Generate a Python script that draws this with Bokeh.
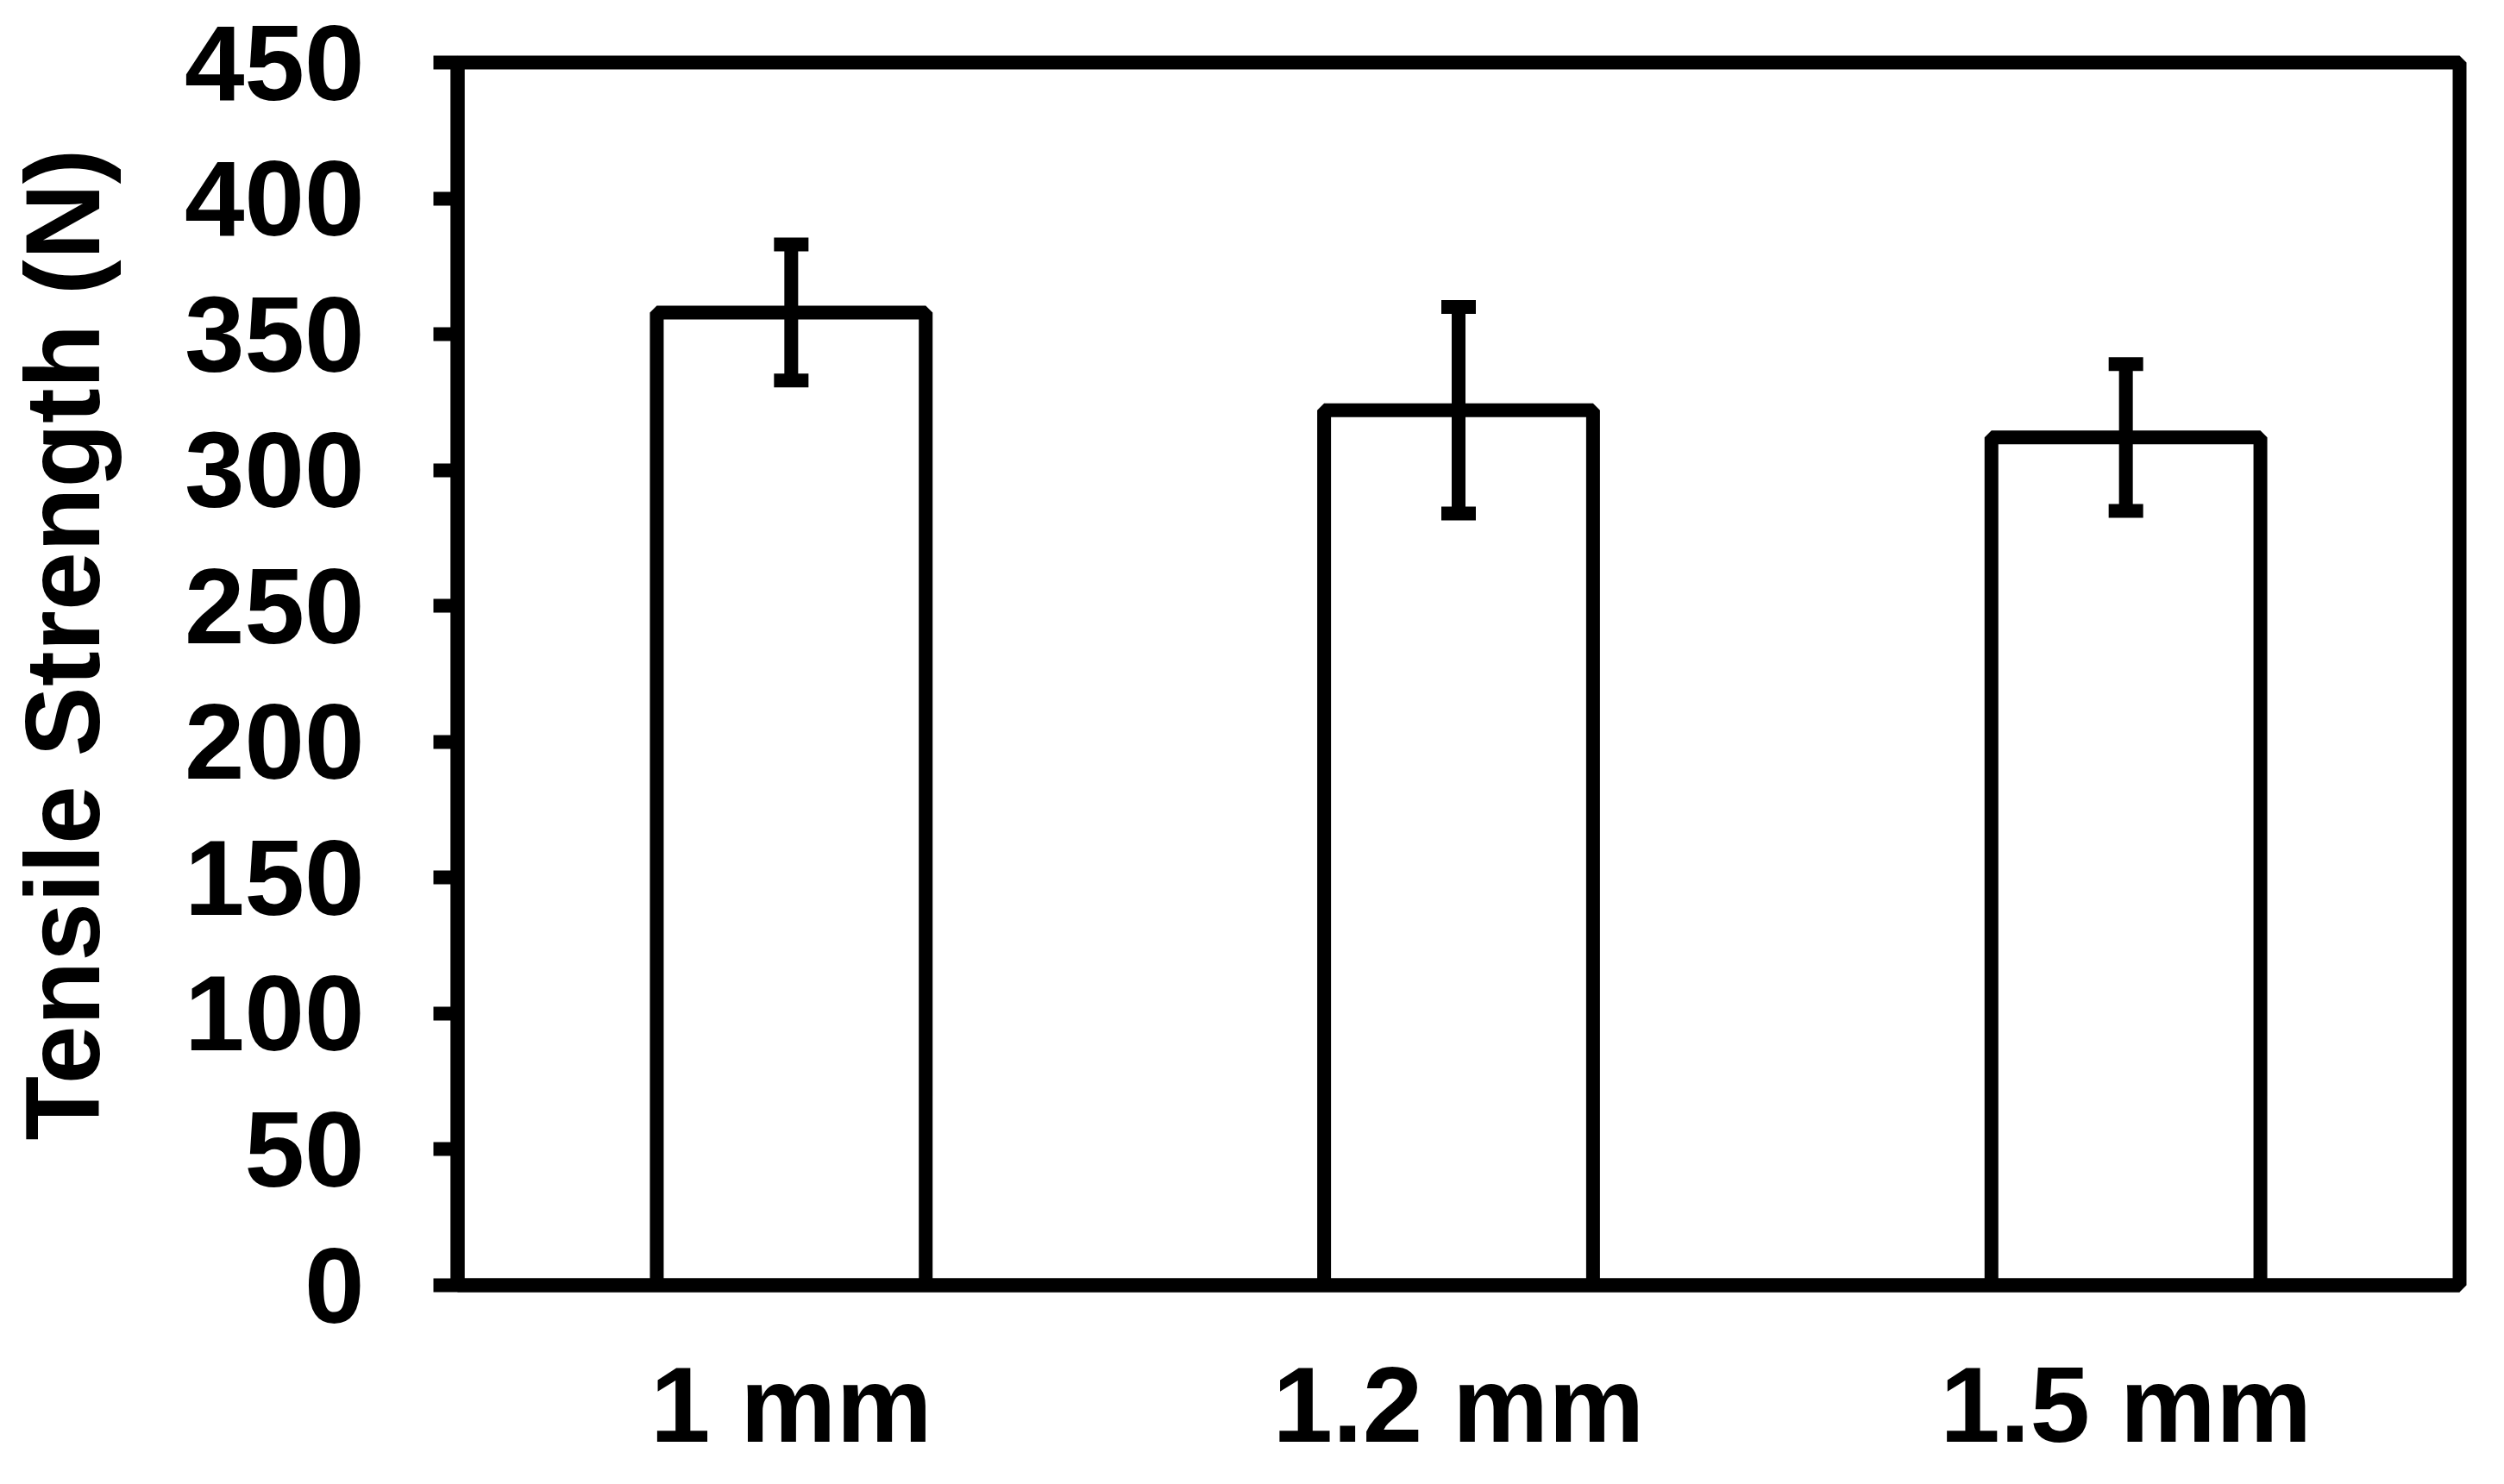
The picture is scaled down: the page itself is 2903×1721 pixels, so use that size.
from bokeh.plotting import figure
from bokeh.models import FactorRange, Range1d, FixedTicker, Whisker, TeeHead, ColumnDataSource
from bokeh.embed import file_html
from bokeh.resources import INLINE

categories = ["1 mm", "1.2 mm", "1.5 mm"]
strength = [358, 322, 312]
errors = [25, 38, 27]
y_ticks = [0, 50, 100, 150, 200, 250, 300, 350, 400, 450]
y_title = "Tensile Strength (N)"

upper = [s + e for s, e in zip(strength, errors)]
lower = [s - e for s, e in zip(strength, errors)]
src = ColumnDataSource(dict(cat=categories, val=strength, upper=upper, lower=lower))

p = figure(
    x_range=FactorRange(*categories),
    y_range=Range1d(0, 450),
    width=2880, height=1700,
    output_backend="svg", toolbar_location=None,
    min_border_left=530, min_border_right=29,
    min_border_top=72, min_border_bottom=200,
)

FONT = "Liberation Sans"
LW = 16

p.vbar(x="cat", top="val", width=0.403, bottom=0, source=src,
       fill_color="white", line_color="black", line_width=LW)

w = Whisker(base="cat", upper="upper", lower="lower", source=src, dimension="height",
            line_color="black", line_width=LW, level="overlay",
            upper_head=TeeHead(size=40, line_width=LW, line_color="black"),
            lower_head=TeeHead(size=40, line_width=LW, line_color="black"))
p.add_layout(w)

p.xgrid.visible = False
p.ygrid.visible = False
p.outline_line_color = "black"
p.outline_line_width = LW
p.background_fill_color = "white"
p.border_fill_color = "white"

ya = p.yaxis[0]
ya.ticker = FixedTicker(ticks=y_ticks)
ya.minor_tick_line_color = None
ya.major_tick_in = 0
ya.major_tick_out = 28
ya.major_tick_line_width = LW
ya.major_tick_line_color = "black"
ya.axis_line_width = LW
ya.axis_line_color = "black"
ya.major_label_text_font = FONT
ya.major_label_text_font_style = "bold"
ya.major_label_text_font_size = "125px"
ya.major_label_text_color = "black"
ya.major_label_standoff = 80
# two leading no-break spaces nudge the centred title slightly upward, as in the reference
ya.axis_label = "\u00a0\u00a0" + y_title
ya.axis_label_text_font = FONT
ya.axis_label_text_font_style = "bold"
ya.axis_label_text_font_size = "122px"
ya.axis_label_text_color = "black"
ya.axis_label_standoff = 70

xa = p.xaxis[0]
xa.major_tick_line_color = None
xa.minor_tick_line_color = None
xa.major_tick_in = 0
xa.major_tick_out = 0
xa.axis_line_width = LW
xa.axis_line_color = "black"
xa.major_label_text_font = FONT
xa.major_label_text_font_style = "bold"
xa.major_label_text_font_size = "125px"
xa.major_label_text_color = "black"
xa.major_label_standoff = 68

open("out.html", "w").write(file_html(p, INLINE))
